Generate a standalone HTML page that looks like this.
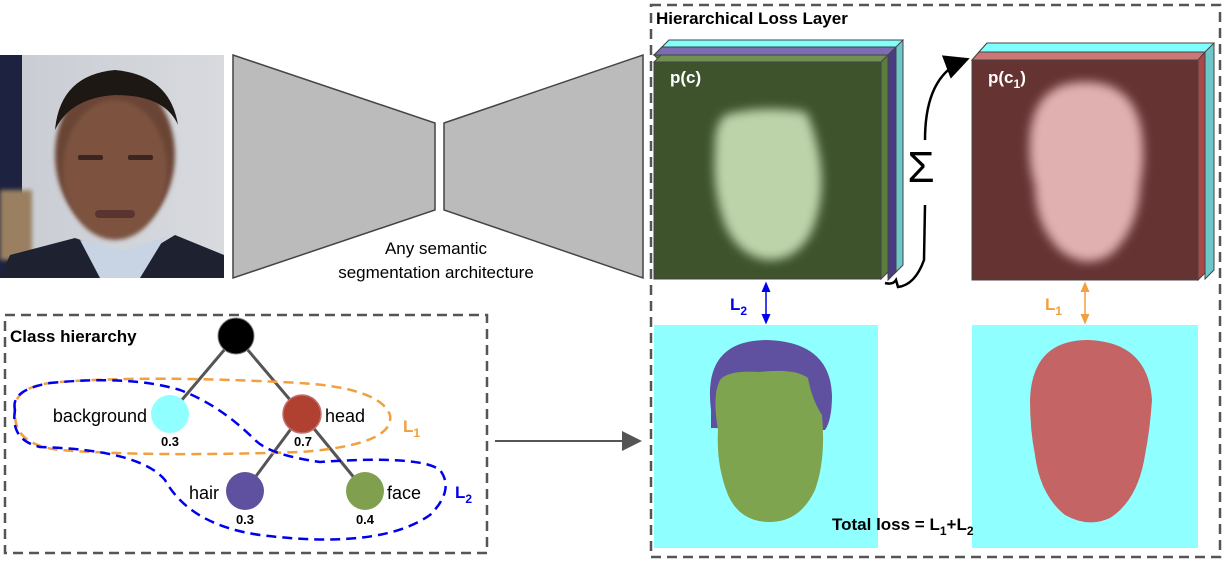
<!DOCTYPE html>
<html><head><meta charset="utf-8"><style>
html,body{margin:0;padding:0;background:#fff;width:1226px;height:562px;overflow:hidden}
svg{display:block;font-family:"Liberation Sans",Arial,sans-serif}
</style></head><body>
<svg width="1226" height="562" viewBox="0 0 1226 562" xmlns="http://www.w3.org/2000/svg">
<defs>
<filter id="bl" x="-20%" y="-20%" width="140%" height="140%"><feGaussianBlur stdDeviation="5"/></filter>
<filter id="bl2"><feGaussianBlur stdDeviation="2"/></filter>
<linearGradient id="bgp" x1="0" x2="1"><stop offset="0" stop-color="#c8ccd2"/><stop offset="1" stop-color="#d8dadf"/></linearGradient>
<marker id="ab" markerWidth="8" markerHeight="8" refX="4" refY="4" orient="auto-start-reverse"><path d="M0,1 L7,4 L0,7z" fill="#0000ee"/></marker>
<marker id="ao" markerWidth="8" markerHeight="8" refX="4" refY="4" orient="auto-start-reverse"><path d="M0,1 L7,4 L0,7z" fill="#f0a040"/></marker>
<marker id="ag" markerWidth="10" markerHeight="10" refX="8" refY="5" orient="auto"><path d="M0,0 L10,5 L0,10z" fill="#555"/></marker>
<marker id="ak" markerWidth="10" markerHeight="10" refX="8" refY="5" orient="auto"><path d="M0,0 L10,5 L0,10z" fill="#000"/></marker>
<clipPath id="pc"><rect x="0" y="55" width="224" height="223"/></clipPath>
</defs>

<!-- photo -->
<g clip-path="url(#pc)">
<rect x="0" y="55" width="224" height="223" fill="url(#bgp)"/>
<rect x="0" y="55" width="22" height="223" fill="#1c2240"/>
<rect x="0" y="190" width="32" height="70" fill="#9a8060" filter="url(#bl2)"/>
<path d="M0,278 L10,255 L75,238 L110,250 L150,250 L175,235 L224,255 L224,278z" fill="#1e2230"/>
<path d="M80,240 L100,278 L140,278 L165,237 L125,250z" fill="#c8d4e4"/>
<ellipse cx="115" cy="155" rx="60" ry="78" fill="#6a4535" filter="url(#bl2)"/>
<path d="M55,130 Q60,75 115,70 Q170,75 178,125 Q165,95 115,95 Q70,98 55,130z" fill="#1e1814"/>
<ellipse cx="115" cy="170" rx="52" ry="70" fill="#7d5240" filter="url(#bl2)"/>
<rect x="78" y="155" width="25" height="5" rx="2" fill="#3a2520"/>
<rect x="128" y="155" width="25" height="5" rx="2" fill="#3a2520"/>
<rect x="95" y="210" width="40" height="8" rx="4" fill="#5a3530"/>
</g>

<!-- encoder/decoder -->
<path d="M233,55 L435,123 L435,210 L233,278z" fill="#bbbbbb" stroke="#444" stroke-width="1.5"/>
<path d="M444,123 L643,55 L643,278 L444,210z" fill="#bbbbbb" stroke="#444" stroke-width="1.5"/>
<text x="436" y="254" font-size="17" text-anchor="middle">Any semantic</text>
<text x="436" y="278" font-size="17" text-anchor="middle">segmentation architecture</text>

<!-- right box -->
<rect x="651" y="5" width="569" height="552" fill="none" stroke="#555" stroke-width="2.5" stroke-dasharray="10,6"/>
<text x="656" y="24" font-size="17" font-weight="bold">Hierarchical Loss Layer</text>

<!-- stack1 -->
<path d="M669,40 L903,40 L903,265 L896,272 L896,47 L662,47z" fill="#6cc8c8" stroke="#444" stroke-width="1"/>
<path d="M669,40 L903,40 L896,47 L662,47z" fill="#80ffff" stroke="#444" stroke-width="1"/>
<path d="M662,47 L896,47 L896,272 L888,280 L888,55 L654,55z" fill="#4a3c80" stroke="#444" stroke-width="1"/>
<path d="M662,47 L896,47 L888,55 L654,55z" fill="#7c6cb0" stroke="#444" stroke-width="1"/>
<path d="M654,55 L888,55 L888,272 L881,279 L881,62 L661,62z" fill="#5a7e3c" stroke="#444" stroke-width="1"/>
<path d="M661,55 L888,55 L881,62 L654,62z" fill="#6e9050" stroke="#444" stroke-width="1"/>
<rect x="654" y="62" width="227" height="217" fill="#3e532c" stroke="#444" stroke-width="1"/>
<path d="M725,115 Q760,105 806,112 Q815,130 820,160 Q826,200 810,235 Q795,260 770,260 Q740,258 725,225 Q712,190 715,150 Q714,125 725,115z" fill="#bcd3aa" filter="url(#bl)"/>
<text x="670" y="83" font-size="17" font-weight="bold" fill="#fff">p(c)</text>

<!-- stack2 -->
<path d="M987,43 L1214,43 L1214,270 L1205,279 L1205,52 L979,52z" fill="#6cc8c8" stroke="#444" stroke-width="1"/>
<path d="M987,43 L1214,43 L1205,52 L979,52z" fill="#80ffff" stroke="#444" stroke-width="1"/>
<path d="M979,52 L1205,52 L1205,273 L1198,280 L1198,60 L972,60z" fill="#a84848" stroke="#444" stroke-width="1"/>
<path d="M979,52 L1205,52 L1198,60 L972,60z" fill="#cc7777" stroke="#444" stroke-width="1"/>
<rect x="972" y="60" width="226" height="220" fill="#663333" stroke="#444" stroke-width="1"/>
<path d="M1085,82 Q1135,82 1142,135 Q1145,160 1140,185 Q1138,230 1110,255 Q1085,270 1060,250 Q1035,225 1035,185 Q1028,165 1030,135 Q1035,82 1085,82z" fill="#e0b0b0" filter="url(#bl)"/>
<text x="988" y="83" font-size="17" font-weight="bold" fill="#fff">p(c<tspan font-size="12" dy="5">1</tspan><tspan dy="-5">)</tspan></text>

<!-- sigma arrow -->
<path d="M885,283 Q893,285 896,280 L898,287 Q915,285 924,260 L925,205" fill="none" stroke="#000" stroke-width="2.5"/>
<path d="M925,140 Q925,75 965,60" fill="none" stroke="#000" stroke-width="2.5" marker-end="url(#ak)"/>
<text x="921" y="182" font-size="44" text-anchor="middle">Σ</text>

<!-- L arrows -->
<line x1="766" y1="286" x2="766" y2="320" stroke="#0000ee" stroke-width="1.5" marker-start="url(#ab)" marker-end="url(#ab)"/>
<text x="730" y="310" font-size="17" font-weight="bold" fill="#0000ee">L<tspan font-size="12" dy="5">2</tspan></text>
<line x1="1085" y1="286" x2="1085" y2="320" stroke="#f0a040" stroke-width="1.5" marker-start="url(#ao)" marker-end="url(#ao)"/>
<text x="1045" y="310" font-size="17" font-weight="bold" fill="#f0a040">L<tspan font-size="12" dy="5">1</tspan></text>

<!-- bottom images -->
<rect x="654" y="325" width="224" height="223" fill="#8fffff"/>
<path d="M711,410 Q702,340 767,340 Q830,342 832,395 Q832,420 825,430 L711,428z" fill="#6050a0"/>
<path d="M720,380 Q728,370 760,372 Q795,368 808,378 Q812,400 822,415 Q826,460 815,490 Q800,522 770,522 Q740,522 728,495 Q716,465 718,430 Q712,395 720,380z" fill="#7fa450"/>
<rect x="972" y="325" width="226" height="223" fill="#8fffff"/>
<path d="M1088,340 Q1148,342 1152,400 Q1150,430 1145,455 Q1138,500 1110,518 Q1088,528 1065,515 Q1040,495 1035,455 Q1030,430 1030,400 Q1032,340 1088,340z" fill="#c46464"/>
<text x="832" y="530" font-size="17" font-weight="bold">Total loss = L<tspan font-size="12" dy="5">1</tspan><tspan dy="-5">+L</tspan><tspan font-size="12" dy="5">2</tspan></text>

<!-- connecting arrow -->
<line x1="495" y1="441" x2="638" y2="441" stroke="#555" stroke-width="2" marker-end="url(#ag)"/>

<!-- left box -->
<rect x="5" y="315" width="482" height="238" fill="none" stroke="#555" stroke-width="2.5" stroke-dasharray="10,6"/>
<text x="10" y="342" font-size="17" font-weight="bold">Class hierarchy</text>
<line x1="236" y1="336" x2="170" y2="414" stroke="#555" stroke-width="3"/>
<line x1="236" y1="336" x2="302" y2="414" stroke="#555" stroke-width="3"/>
<line x1="302" y1="414" x2="245" y2="491" stroke="#555" stroke-width="3"/>
<line x1="302" y1="414" x2="365" y2="491" stroke="#555" stroke-width="3"/>
<path d="M15,415 Q10,385 60,382 Q150,375 300,383 Q380,388 390,415 Q395,445 300,452 Q150,457 60,450 Q15,445 15,415z" fill="none" stroke="#f0a040" stroke-width="2.5" stroke-dasharray="10,6"/>
<path d="M15,410 Q10,390 50,383 Q130,375 180,390 Q220,405 255,440 Q270,455 320,462 Q420,455 440,470 Q455,490 430,515 Q380,550 260,535 Q190,525 165,480 Q140,450 40,447 Q10,440 15,410z" fill="none" stroke="#0000ee" stroke-width="2.5" stroke-dasharray="10,6"/>
<circle cx="236" cy="336" r="18" fill="#000" stroke="#777" stroke-width="1"/>
<circle cx="170" cy="414" r="19" fill="#8fffff"/>
<circle cx="302" cy="414" r="19" fill="#b04030" stroke="#c07070" stroke-width="1.5"/>
<circle cx="245" cy="491" r="19" fill="#6050a0"/>
<circle cx="365" cy="491" r="19" fill="#80a050"/>
<text x="147" y="422" font-size="18" text-anchor="end">background</text>
<text x="325" y="422" font-size="18">head</text>
<text x="219" y="499" font-size="18" text-anchor="end">hair</text>
<text x="387" y="499" font-size="18">face</text>
<g font-size="13" font-weight="bold" text-anchor="middle">
<text x="170" y="446">0.3</text><text x="303" y="446">0.7</text>
<text x="245" y="524">0.3</text><text x="365" y="524">0.4</text></g>
<text x="403" y="432" font-size="17" font-weight="bold" fill="#f0a040">L<tspan font-size="12" dy="5">1</tspan></text>
<text x="455" y="498" font-size="17" font-weight="bold" fill="#0000ee">L<tspan font-size="12" dy="5">2</tspan></text>
</svg>
</body></html>
